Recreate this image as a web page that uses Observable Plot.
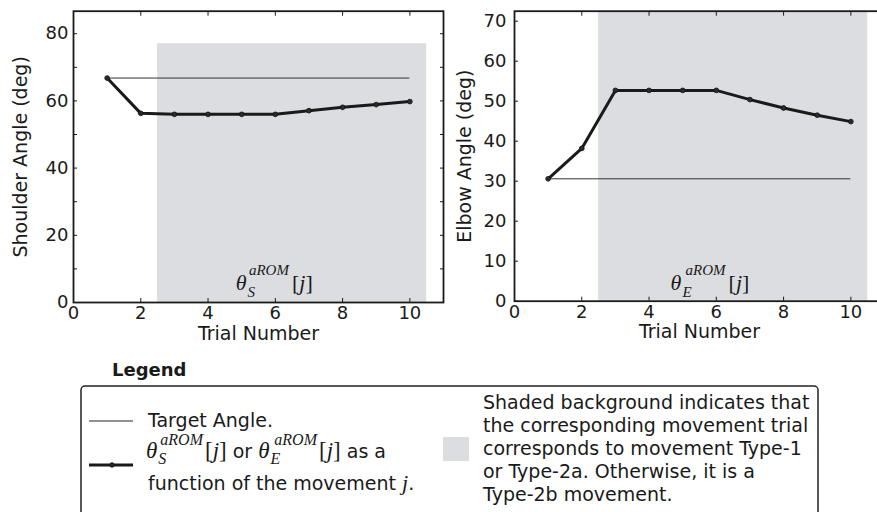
<!DOCTYPE html>
<html>
<head>
<meta charset="utf-8">
<script src="https://cdn.jsdelivr.net/npm/d3@7"></script>
<script src="https://cdn.jsdelivr.net/npm/@observablehq/plot@0.6"></script>
<style>
  html, body { margin: 0; padding: 0; background: #fff; }
  body { width: 877px; height: 512px; overflow: hidden; position: relative; font-family: "DejaVu Sans", sans-serif; }
  #left { position: absolute; left: 0; top: 0; width: 460px; }
  #right { position: absolute; left: 440px; top: 0; width: 460px; }
  #left svg, #right svg { max-width: none !important; }
  #legend { position: absolute; left: 0; top: 0; }
</style>
</head>
<body>
<div id="left"></div>
<div id="right"></div>
<svg id="legend" width="877" height="512"></svg>
<script>
// ---------- data ----------
const trials = [1, 2, 3, 4, 5, 6, 7, 8, 9, 10];
const shoulderAngle = [66.8, 56.3, 56.0, 56.0, 56.0, 56.0, 57.1, 58.1, 58.9, 59.8];
const elbowAngle = [30.6, 38.2, 52.7, 52.7, 52.7, 52.7, 50.4, 48.3, 46.5, 44.9];
const shoulderTarget = 66.8;
const elbowTarget = 30.6;
const shadedRange = [2.5, 10.5];          // trials of movement Type-1 / Type-2a
const shoulderShadeTop = 77;
const xTickLabels = [0, 2, 4, 6, 8, 10];
const shoulderTickLabels = [0, 20, 40, 60, 80];
const elbowTickLabels = [0, 10, 20, 30, 40, 50, 60, 70];
const minorYTicks = [0, 10, 20, 30, 40, 50, 60, 70, 80];
const legendRightLines = [
  "Shaded background indicates that",
  "the corresponding movement trial",
  "corresponds to movement Type-1",
  "or Type-2a. Otherwise, it is a",
  "Type-2b movement."
];

const INK = "#1a1a1a";
const SHADE = "#dcdde0";

function makeChart(opts) {
  const data = trials.map((t, i) => ({trial: t, angle: opts.values[i]}));
  const shade = [{x1: shadedRange[0], x2: shadedRange[1], top: opts.shadeTop}];
  const marker = "MATH_" + opts.sub;
  const yMinor = minorYTicks.filter(v => v <= opts.yDomain[1]);
  const plot = Plot.plot({
    width: 460,
    height: 340,
    marginLeft: opts.marginLeft,
    marginRight: 460 - opts.marginLeft - 370,
    marginTop: 10.7,
    marginBottom: opts.marginBottom,
    x: {domain: [0, 11]},
    y: {domain: opts.yDomain},
    style: {fontFamily: "DejaVu Sans", fontSize: "18px", background: "transparent", color: INK, overflow: "visible", maxWidth: "none"},
    marks: [
      Plot.rect(shade, {x1: "x1", x2: "x2", y1: 0, y2: "top", fill: SHADE}),
      Plot.ruleY([opts.target], {x1: trials[0], x2: trials[trials.length - 1], stroke: "#333", strokeWidth: 1}),
      Plot.line(data, {x: "trial", y: "angle", stroke: INK, strokeWidth: 3}),
      Plot.dot(data, {x: "trial", y: "angle", r: 2.4, fill: "#2b2b2b", stroke: "#111", strokeWidth: 0.8}),
      Plot.text([{x: opts.labelX, y: opts.labelY}], {x: "x", y: "y", text: () => marker, textAnchor: "start", lineAnchor: "bottom", fontSize: 22, fontFamily: "Liberation Serif", fill: INK}),
      Plot.frame({stroke: INK, strokeWidth: 1.8}),
      Plot.axisX(xTickLabels, {anchor: "bottom", tickSize: -4, tickFormat: () => "", label: null}),
      Plot.axisX(xTickLabels, {anchor: "top", tickSize: -4, tickFormat: () => "", label: null}),
      Plot.axisY(yMinor, {anchor: "left", tickSize: -4, tickFormat: () => "", label: null}),
      Plot.axisY(yMinor, {anchor: "right", tickSize: -4, tickFormat: () => "", label: null}),
      Plot.axisX(xTickLabels, {anchor: "bottom", tickSize: 0, tickPadding: 4, fontSize: 18, label: null}),
      Plot.axisY(opts.yTicks, {anchor: "left", tickSize: 0, tickPadding: opts.tickPadding, fontSize: 18, label: null}),
      Plot.axisX([], {anchor: "bottom", tickSize: 0, fontSize: 19, label: "Trial Number", labelAnchor: "center", labelArrow: "none", labelOffset: 37}),
      Plot.axisY([], {anchor: "left", tickSize: 0, fontSize: 19, label: opts.yLabel, labelAnchor: "center", labelArrow: "none", labelOffset: opts.labelOffset})
    ]
  });
  d3.select(plot).selectAll("text").filter(function () { return this.textContent === marker; })
    .each(function () { buildMath(d3.select(this), opts.sub, 22, 15); });
  return plot;
}

function buildMath(sel, sub, big, small) {
  sel.text("");
  sel.attr("font-family", "Liberation Serif");
  sel.append("tspan").attr("font-style", "italic").attr("font-size", big).text("θ");
  sel.append("tspan").attr("font-style", "italic").attr("font-size", small).attr("dx", 1).attr("dy", 7).text(sub);
  sel.append("tspan").attr("font-style", "italic").attr("font-size", small).attr("dx", -6).attr("dy", -22).text("aROM");
  sel.append("tspan").attr("font-size", big).attr("dx", 3).attr("dy", 15).text("[");
  sel.append("tspan").attr("font-style", "italic").attr("font-size", big).text("j");
  sel.append("tspan").attr("font-size", big).text("]");
}

document.getElementById("left").append(makeChart({
  values: shoulderAngle, target: shoulderTarget, yDomain: [0, 86.7], shadeTop: shoulderShadeTop,
  yTicks: shoulderTickLabels, yLabel: "Shoulder Angle (deg)", marginLeft: 73, marginBottom: 38,
  tickPadding: 5, labelOffset: 60, sub: "S", labelX: 4.82, labelY: 3.6
}));
document.getElementById("right").append(makeChart({
  values: elbowAngle, target: elbowTarget, yDomain: [0, 72.5], shadeTop: 72.5,
  yTicks: elbowTickLabels, yLabel: "Elbow Angle (deg)", marginLeft: 74, marginBottom: 39.3,
  tickPadding: 8, labelOffset: 57, sub: "E", labelX: 4.64, labelY: 2.7
}));

// ---------- legend ----------
const lg = d3.select("#legend").attr("font-family", "DejaVu Sans").attr("fill", INK);
lg.append("text").attr("x", 112).attr("y", 376).attr("font-size", 18).attr("font-weight", "bold").text("Legend");
lg.append("rect").attr("x", 81).attr("y", 386).attr("width", 737).attr("height", 150).attr("rx", 4)
  .attr("fill", "none").attr("stroke", "#222").attr("stroke-width", 1.5);
lg.append("line").attr("x1", 89).attr("x2", 133).attr("y1", 421).attr("y2", 421).attr("stroke", "#222").attr("stroke-width", 1);
lg.append("text").attr("x", 148).attr("y", 427).attr("font-size", 19).text("Target Angle.");
lg.append("line").attr("x1", 89).attr("x2", 133).attr("y1", 465).attr("y2", 465).attr("stroke", INK).attr("stroke-width", 3);
lg.append("circle").attr("cx", 112).attr("cy", 465).attr("r", 2.2).attr("fill", "#2b2b2b").attr("stroke", "#111");
const mline = lg.append("text").attr("x", 146).attr("y", 458).attr("font-size", 19);
function mathInline(t, sub) {
  const serif = "Liberation Serif";
  t.append("tspan").attr("font-family", serif).attr("font-style", "italic").attr("font-size", 23).text("θ");
  t.append("tspan").attr("font-family", serif).attr("font-style", "italic").attr("font-size", 16).attr("dx", 1).attr("dy", 6).text(sub);
  t.append("tspan").attr("font-family", serif).attr("font-style", "italic").attr("font-size", 16).attr("dx", -6).attr("dy", -19).text("aROM");
  t.append("tspan").attr("font-family", serif).attr("font-size", 23).attr("dx", 2).attr("dy", 13).text("[");
  t.append("tspan").attr("font-family", serif).attr("font-style", "italic").attr("font-size", 23).text("j");
  t.append("tspan").attr("font-family", serif).attr("font-size", 23).text("]");
}
mathInline(mline, "S");
mline.append("tspan").attr("font-size", 19).text(" or ");
mathInline(mline, "E");
mline.append("tspan").attr("font-size", 19).text(" as a");
const fline = lg.append("text").attr("x", 148).attr("y", 490).attr("font-size", 19);
fline.append("tspan").text("function of the movement ");
fline.append("tspan").attr("font-family", "Liberation Serif").attr("font-style", "italic").attr("font-size", 22).text("j");
fline.append("tspan").text(".");
lg.append("rect").attr("x", 443).attr("y", 437).attr("width", 26).attr("height", 24).attr("fill", SHADE);
lg.selectAll("text.rt").data(legendRightLines).join("text").attr("class", "rt")
  .attr("x", 483).attr("y", (d, i) => 409 + i * 23).attr("font-size", 19).text(d => d);
</script>
</body>
</html>
